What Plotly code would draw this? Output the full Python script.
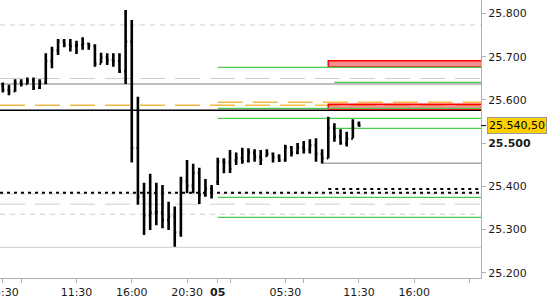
import plotly.graph_objects as go

# ---------------- data ----------------
bar_index = list(range(59))  # 30-minute bars
opens = [25632, 25623, 25620, 25640, 25637, 25645, 25628, 25640, 25690, 25715,
         25735, 25728, 25725, 25727, 25730, 25725, 25684, 25698, 25692, 25690,
         25666, 25735, 25489, 25376, 25333, 25339, 25340, 25322, 25330, 25293,
         25412, 25401, 25431, 25380, 25394, 25410, 25457, 25455, 25460, 25465,
         25458, 25478, 25468, 25470, 25475, 25468, 25460, 25490, 25478, 25490,
         25485, 25495, 25475, 25465, 25535, 25515, 25500, 25510, 25545]
highs = [25640, 25635, 25648, 25648, 25652, 25652, 25648, 25708, 25723, 25741,
         25741, 25741, 25737, 25745, 25732, 25729, 25709, 25708, 25708, 25708,
         25808, 25785, 25607, 25408, 25429, 25408, 25403, 25364, 25353, 25422,
         25461, 25452, 25443, 25417, 25403, 25466, 25465, 25484, 25478, 25489,
         25488, 25486, 25484, 25486, 25478, 25474, 25496, 25493, 25500, 25505,
         25509, 25511, 25486, 25561, 25546, 25532, 25526, 25555, 25550]
lows = [25617, 25611, 25619, 25631, 25637, 25623, 25625, 25636, 25673, 25704,
        25722, 25712, 25706, 25716, 25716, 25677, 25685, 25681, 25677, 25662,
        25637, 25455, 25357, 25287, 25299, 25310, 25303, 25299, 25260, 25283,
        25384, 25384, 25359, 25376, 25372, 25403, 25430, 25431, 25449, 25452,
        25455, 25457, 25449, 25469, 25455, 25456, 25457, 25469, 25474, 25476,
        25476, 25457, 25453, 25465, 25503, 25496, 25492, 25511, 25538]
closes = [25623, 25620, 25640, 25637, 25645, 25628, 25640, 25690, 25715, 25735,
          25728, 25725, 25727, 25730, 25725, 25684, 25698, 25692, 25690, 25666,
          25735, 25489, 25376, 25333, 25339, 25340, 25322, 25330, 25293, 25412,
          25401, 25431, 25380, 25394, 25390, 25457, 25455, 25440, 25465, 25458,
          25478, 25468, 25462, 25475, 25468, 25460, 25490, 25478, 25490, 25485,
          25495, 25475, 25465, 25535, 25515, 25500, 25510, 25535, 25540.5]

x_tick_index = [0, 3, 12, 21, 30, 35, 37, 46, 49, 58, 67, 76]
x_tick_text = ["05:30", "", "11:30", "16:00", "20:30", "<b>05</b>", "",
               "05:30", "", "11:30", "16:00", ""]

y_tick_values = [25200, 25300, 25400, 25500, 25600, 25700, 25800]
y_tick_text = ["25.200", "25.300", "25.400", "<b>25.500</b>", "25.600",
               "25.700", "25.800"]

last_price = 25540.5
last_price_text = "25.540,50"

# horizontal levels (price, first bar index; None = whole chart)
green_levels = [25675.5, 25640.7, 25580.6, 25557.4, 25534.3, 25374.5, 25328.2]
green_starts = [35, 54, 35, 35, 54, 35, 35]
orange_levels = [25594.4, 25587.5]
orange_starts = [35, None]
light_long_dash_levels = [25649.5, 25358.6]
light_short_dash_levels = [25773.4, 25382.2, 25335.2]
gray_levels = [25636.8, 25453.2]
gray_starts = [None, 52]
light_solid_levels = [25258.8]
black_levels = [25575.9]
dotted_levels = [25385.2, 25393.7]
dotted_starts = [None, 53]
zone_low = [25676.2, 25578.9]
zone_high = [25690.7, 25589.8]
zone_starts = [53, 53]

x_range = [-0.456, 77.87]
y_range = [25187.7, 25831.25]

FONT = "DejaVu Sans"

# ---------------- figure ----------------
fig = go.Figure()
fig.add_trace(go.Ohlc(
    x=bar_index, open=opens, high=highs, low=lows, close=closes,
    increasing=dict(line=dict(color="#000000", width=2.6)),
    decreasing=dict(line=dict(color="#000000", width=2.6)),
    tickwidth=0.25, hoverinfo="skip", showlegend=False,
))

shapes = []


def hline(level, start, color, width, dash="solid"):
    if start is None:
        return dict(type="line", xref="paper", x0=0, x1=1, yref="y",
                    y0=level, y1=level, layer="below",
                    line=dict(color=color, width=width, dash=dash))
    return dict(type="line", xref="x", x0=start, x1=x_range[1], yref="y",
                y0=level, y1=level, layer="below",
                line=dict(color=color, width=width, dash=dash))


for lv in light_long_dash_levels:
    shapes.append(hline(lv, None, "#cfcfcf", 1, "25px,10px"))
for lv in light_short_dash_levels:
    shapes.append(hline(lv, None, "#cfcfcf", 1, "5px,5px"))
for lv in light_solid_levels:
    shapes.append(hline(lv, None, "#cccccc", 1))
for lv, st in zip(gray_levels, gray_starts):
    shapes.append(hline(lv, st, "#a8a8a8", 1.5))
for lv, st in zip(orange_levels, orange_starts):
    shapes.append(hline(lv, st, "#f5b945", 1.5, "25px,10px"))
for lv, st in zip(dotted_levels, dotted_starts):
    shapes.append(hline(lv, st, "#000000", 2, "3px,4px"))
for lo, hi, st in zip(zone_low, zone_high, zone_starts):
    shapes.append(dict(type="rect", xref="x", x0=st, x1=x_range[1] + 1,
                       yref="y", y0=lo, y1=hi, layer="below",
                       fillcolor="rgba(238,70,70,0.6)",
                       line=dict(color="#ff0000", width=1.5)))
for lv, st in zip(green_levels, green_starts):
    shapes.append(hline(lv, st, "#4cc84c", 1.2))
for lv in black_levels:
    shapes.append(hline(lv, None, "#000000", 1.5))

# last price marker on the axis
shapes.append(dict(type="line", xref="paper", x0=1, x1=1 + 5 / 481, yref="y",
                   y0=last_price, y1=last_price,
                   line=dict(color="#000000", width=1)))

fig.update_layout(
    width=550, height=300,
    margin=dict(l=0, r=69, t=0, b=22, autoexpand=False),
    paper_bgcolor="white", plot_bgcolor="white",
    separators=",.",
    font=dict(family=FONT, size=11, color="#1a1a1a"),
    shapes=shapes,
    showlegend=False,
    xaxis=dict(
        range=x_range, rangeslider=dict(visible=False),
        automargin=False,
        showgrid=False, zeroline=False,
        showline=True, linecolor="#b0b0b0", linewidth=1,
        ticks="outside", ticklen=4, tickcolor="#b0b0b0",
        tickmode="array", tickvals=x_tick_index, ticktext=x_tick_text,
        ticklabeloverflow="allow",
        tickfont=dict(family=FONT, size=11, color="#1a1a1a"),
    ),
    yaxis=dict(
        range=y_range, side="right",
        automargin=False,
        showgrid=False, zeroline=False,
        showline=True, linecolor="#b0b0b0", linewidth=1,
        ticks="outside", ticklen=4, tickcolor="#b0b0b0",
        tickmode="array", tickvals=y_tick_values, ticktext=y_tick_text,
        tickfont=dict(family=FONT, size=11, color="#1a1a1a"),
    ),
    annotations=[dict(
        xref="paper", x=1 + 6 / 481, xanchor="left",
        yref="y", y=last_price, yanchor="middle",
        text=last_price_text, showarrow=False,
        font=dict(family=FONT, size=11, color="#000000"),
        bgcolor="#ffd000", bordercolor="#999999", borderwidth=1, borderpad=1,
    )],
)

fig.write_html("out.html")
